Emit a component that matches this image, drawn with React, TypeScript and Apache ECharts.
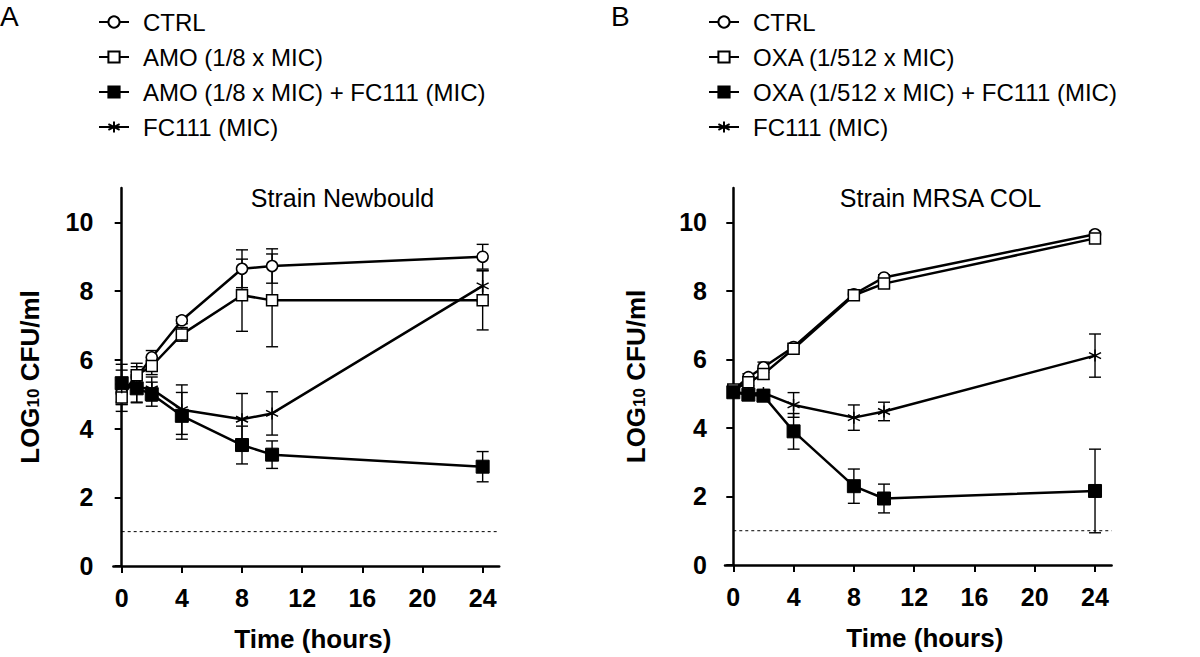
import React, { useEffect, useRef } from "react";
import * as echarts from "echarts";

const TIME = [0, 1, 2, 4, 8, 10, 24];
const X_TICKS = [0, 4, 8, 12, 16, 20, 24];
const Y_TICKS = [0, 2, 4, 6, 8, 10];
const DETECTION_LIMIT = 1;

// Panel A — Strain Newbould
const A_NAMES = ["CTRL", "AMO (1/8 x MIC)", "AMO (1/8 x MIC) + FC111 (MIC)", "FC111 (MIC)"];
const A_CTRL = [5.05, 5.5, 6.07, 7.15, 8.65, 8.73, 9.0];
const A_CTRL_ERR = [0.35, 0.3, 0.2, 0.1, 0.55, 0.5, 0.36];
const A_AMO = [4.9, 5.55, 5.82, 6.74, 7.88, 7.73, 7.73];
const A_AMO_ERR = [0.4, 0.35, 0.25, 0.2, 1.05, 1.35, 0.86];
const A_COMBO = [5.32, 5.17, 5.0, 4.37, 3.52, 3.24, 2.89];
const A_COMBO_ERR = [0.55, 0.4, 0.35, 0.68, 0.55, 0.4, 0.44];
const A_FC = [5.2, 5.2, 5.15, 4.55, 4.27, 4.44, 8.15];
const A_FC_ERR = [0.5, 0.45, 0.35, 0.72, 0.75, 0.63, 0.45];

// Panel B — Strain MRSA COL
const B_NAMES = ["CTRL", "OXA (1/512 x MIC)", "OXA (1/512 x MIC) + FC111 (MIC)", "FC111 (MIC)"];
const B_CTRL = [5.1, 5.48, 5.77, 6.36, 7.9, 8.39, 9.65];
const B_CTRL_ERR = [0.1, 0.1, 0.15, 0.1, 0.1, 0.08, 0.08];
const B_OXA = [5.12, 5.33, 5.57, 6.31, 7.87, 8.21, 9.53];
const B_OXA_ERR = [0.1, 0.1, 0.15, 0.1, 0.1, 0.08, 0.08];
const B_COMBO = [5.04, 4.97, 4.94, 3.9, 2.3, 1.94, 2.16];
const B_COMBO_ERR = [0.1, 0.1, 0.1, 0.52, 0.5, 0.42, 1.22];
const B_FC = [5.05, 5.0, 5.02, 4.67, 4.3, 4.48, 6.11];
const B_FC_ERR = [0.1, 0.1, 0.1, 0.36, 0.37, 0.27, 0.63];

const FONT = "'Liberation Sans', Arial, Helvetica, sans-serif";
const STAR = "path://M6,0L6,12M0.8,3L11.2,9M0.8,9L11.2,3";

function errRenderItem(params: any, api: any) {
  const x = api.value(0);
  const y = api.value(1);
  const e = api.value(2);
  const top = api.coord([x, y + e]);
  const bot = api.coord([x, y - e]);
  const hw = 6;
  const style = { stroke: "#000", lineWidth: 1.4 };
  return {
    type: "group",
    children: [
      { type: "line", shape: { x1: top[0], y1: top[1], x2: bot[0], y2: bot[1] }, style },
      { type: "line", shape: { x1: top[0] - hw, y1: top[1], x2: top[0] + hw, y2: top[1] }, style },
      { type: "line", shape: { x1: bot[0] - hw, y1: bot[1], x2: bot[0] + hw, y2: bot[1] }, style },
    ],
  };
}

const STYLES = [
  { symbol: "circle", symbolSize: 11, itemStyle: { color: "#fff", borderColor: "#000", borderWidth: 1.5 } },
  { symbol: "rect", symbolSize: 11, itemStyle: { color: "#fff", borderColor: "#000", borderWidth: 1.5 } },
  { symbol: "rect", symbolSize: 13, itemStyle: { color: "#000", borderColor: "#000", borderWidth: 1 } },
  { symbol: STAR, symbolSize: 12, itemStyle: { color: "#000", borderColor: "#000", borderWidth: 1.5 } },
];

function buildPanel(idx: number, names: string[], vals: number[][], errs: number[][]) {
  const series: any[] = [];
  vals.forEach((v, k) => {
    series.push({
      type: "custom",
      xAxisIndex: idx,
      yAxisIndex: idx,
      renderItem: errRenderItem,
      encode: { x: 0, y: 1 },
      z: 1,
      silent: true,
      data: TIME.map((t, i) => [t, v[i], errs[k][i]]),
    });
  });
  series.push({
    type: "line",
    xAxisIndex: idx,
    yAxisIndex: idx,
    symbol: "none",
    silent: true,
    z: 1,
    lineStyle: { color: "#000", width: 1, type: [3, 3] },
    data: [
      [0, DETECTION_LIMIT],
      [25.1, DETECTION_LIMIT],
    ],
  });
  vals.forEach((v, k) => {
    series.push({
      type: "line",
      name: names[k],
      xAxisIndex: idx,
      yAxisIndex: idx,
      z: 3,
      ...STYLES[k],
      showAllSymbol: true,
      lineStyle: { color: "#000", width: 2.5 },
      data: TIME.map((t, i) => [t, v[i]]),
    });
  });
  return series;
}

function xAxisCfg(idx: number) {
  return {
    type: "value",
    gridIndex: idx,
    min: -0.55,
    max: 25.1,
    name: "Time (hours)",
    nameLocation: "middle",
    nameGap: 60,
    nameTextStyle: { fontFamily: FONT, fontSize: 26, fontWeight: "bold", color: "#000", padding: [0, 0, 0, 13] },
    axisLine: { onZero: true, lineStyle: { color: "#000", width: 2.5 } },
    axisTick: { show: true, length: 7, customValues: X_TICKS, lineStyle: { color: "#000", width: 2 } },
    axisLabel: {
      customValues: X_TICKS,
      margin: 19,
      fontFamily: FONT,
      fontSize: 25,
      fontWeight: "bold",
      color: "#000",
    },
    splitLine: { show: false },
  };
}

function yAxisCfg(idx: number, gap: number, margin: number) {
  return {
    type: "value",
    gridIndex: idx,
    min: 0,
    max: 11,
    name: "{a|LOG}{b|10}{a| CFU/ml}",
    nameLocation: "middle",
    nameRotate: 90,
    nameGap: gap,
    nameTextStyle: {
      color: "#000",
      rich: {
        a: { fontFamily: FONT, fontSize: 26, fontWeight: "bold", color: "#000" },
        b: { fontFamily: FONT, fontSize: 17, fontWeight: "bold", color: "#000", padding: [6, 0, 0, 0] },
      },
    },
    axisLine: { onZero: true, lineStyle: { color: "#000", width: 2.5 } },
    axisTick: { show: true, length: 7, customValues: Y_TICKS, lineStyle: { color: "#000", width: 2 } },
    axisLabel: {
      customValues: Y_TICKS,
      margin: margin,
      fontFamily: FONT,
      fontSize: 25,
      fontWeight: "bold",
      color: "#000",
    },
    splitLine: { show: false },
  };
}

function legendCfg(left: number, names: string[]) {
  return {
    orient: "vertical",
    left: left,
    top: 5,
    padding: 5,
    itemWidth: 30,
    itemHeight: 14,
    itemGap: 11,
    selectedMode: false,
    data: names,
    textStyle: { fontFamily: FONT, fontSize: 24, color: "#000", padding: [0, 0, 0, 9] },
  };
}

export default function App() {
  const ref = useRef<HTMLDivElement>(null);
  useEffect(() => {
    if (!ref.current) return;
    const chart = echarts.init(ref.current, null, { renderer: "svg" });
    const option: any = {
      animation: false,
      backgroundColor: "#fff",
      grid: [
        { left: 113.4, top: 188, width: 385.8, height: 378 },
        { left: 725, top: 188, width: 386.6, height: 377 },
      ],
      xAxis: [xAxisCfg(0), xAxisCfg(1)],
      yAxis: [yAxisCfg(0, 70, 20), yAxisCfg(1, 76, 18)],
      legend: [legendCfg(93, A_NAMES), legendCfg(703, B_NAMES)],
      series: [
        ...buildPanel(0, A_NAMES, [A_CTRL, A_AMO, A_COMBO, A_FC], [A_CTRL_ERR, A_AMO_ERR, A_COMBO_ERR, A_FC_ERR]),
        ...buildPanel(1, B_NAMES, [B_CTRL, B_OXA, B_COMBO, B_FC], [B_CTRL_ERR, B_OXA_ERR, B_COMBO_ERR, B_FC_ERR]),
      ],
      graphic: [
        { type: "text", x: 0, y: 16, style: { text: "A", font: `28px ${FONT}`, fill: "#000", textVerticalAlign: "middle" } },
        { type: "text", x: 611, y: 16, style: { text: "B", font: `28px ${FONT}`, fill: "#000", textVerticalAlign: "middle" } },
        {
          type: "text",
          x: 342.5,
          y: 198,
          style: { text: "Strain Newbould", font: `25px ${FONT}`, fill: "#000", textAlign: "center", textVerticalAlign: "middle" },
        },
        {
          type: "text",
          x: 940.5,
          y: 198,
          style: { text: "Strain MRSA COL", font: `25px ${FONT}`, fill: "#000", textAlign: "center", textVerticalAlign: "middle" },
        },
      ],
    };
    chart.setOption(option);
    return () => chart.dispose();
  }, []);
  return <div ref={ref} style={{ position: "fixed", left: 0, top: 0, width: 1200, height: 657 }} />;
}
